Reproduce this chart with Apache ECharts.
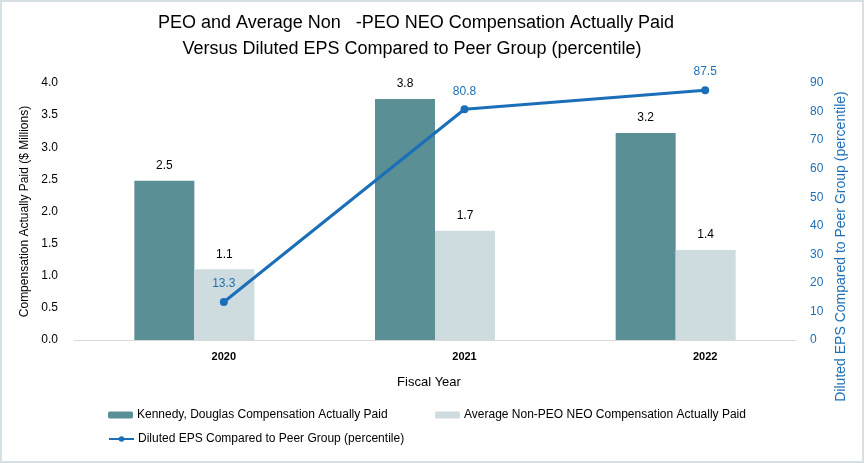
<!DOCTYPE html>
<html>
<head>
<meta charset="utf-8">
<script src="https://cdn.jsdelivr.net/npm/echarts@6/dist/echarts.min.js"></script>
<style>
html,body{margin:0;padding:0;background:#fff;}
#c{width:864px;height:463px;box-sizing:border-box;border:2px solid #d6dfe3;}
</style>
</head>
<body>
<div id="c"></div>
<script>
var categories = ['2020', '2021', '2022'];
var peoValues = [2.48, 3.75, 3.22];
var neoValues = [1.10, 1.70, 1.40];
var epsValues = [13.3, 80.8, 87.5];
var leftTicks = {min: 0, max: 4, interval: 0.5};
var rightTicks = {min: 0, max: 90, interval: 10};

var titleLine1 = 'PEO and Average Non   -PEO NEO Compensation Actually Paid';
var titleLine2 = 'Versus Diluted EPS Compared to Peer Group (percentile)';
var peoName = 'Kennedy, Douglas Compensation Actually Paid';
var neoName = 'Average Non-PEO NEO Compensation Actually Paid';
var epsName = 'Diluted EPS Compared to Peer Group (percentile)';

var FONT = 'Liberation Sans, Arial, sans-serif';
var chart = echarts.init(document.getElementById('c'), null, {renderer: 'canvas'});
var option = {
  animation: false,
  textStyle: {fontFamily: FONT},
  title: [
    {text: titleLine1, left: 409, top: 7, textAlign: 'center',
     textStyle: {fontSize: 18, fontWeight: 'normal', color: '#000', fontFamily: FONT}},
    {text: titleLine2, left: 405, top: 33, textAlign: 'center',
     textStyle: {fontSize: 18, fontWeight: 'normal', color: '#000', fontFamily: FONT}}
  ],
  legend: [
    {data: [peoName], left: 101, top: 402, itemWidth: 25, itemHeight: 7,
     textStyle: {fontSize: 12, color: '#000', fontFamily: FONT, padding: [0,0,0,-1]}},
    {data: [neoName], left: 428, top: 402, itemWidth: 25, itemHeight: 7,
     textStyle: {fontSize: 12, color: '#000', fontFamily: FONT, padding: [0,0,0,-1]}},
    {data: [epsName], left: 101, top: 426, itemWidth: 25, itemHeight: 7,
     textStyle: {fontSize: 12, color: '#000', fontFamily: FONT, padding: [0,0,0,-1]}}
  ],
  grid: [
    {left: 72, width: 722, top: 81, height: 257},
    {left: 101.5, width: 722, top: 81, height: 257}
  ],
  xAxis: [
    {type: 'category', gridIndex: 0, data: categories,
     axisLine: {show: true, lineStyle: {color: '#d9d9d9', width: 1}},
     axisTick: {show: false}, axisLabel: {show: false},
     name: 'Fiscal Year', nameLocation: 'middle', nameGap: 36,
     nameTextStyle: {fontSize: 13, color: '#000', fontFamily: FONT, padding: [0, 12, 0, 0]}},
    {type: 'category', gridIndex: 1, data: categories,
     axisLine: {show: false}, axisTick: {show: false},
     axisLabel: {fontSize: 11, fontWeight: 'bold', color: '#000', margin: 11, fontFamily: FONT}}
  ],
  yAxis: [
    {type: 'value', gridIndex: 0, position: 'left', min: leftTicks.min, max: leftTicks.max, interval: leftTicks.interval,
     splitLine: {show: false}, axisLine: {show: false}, axisTick: {show: false},
     axisLabel: {formatter: function(v){return v.toFixed(1);}, fontSize: 12, color: '#000', margin: 16, fontFamily: FONT},
     name: 'Compensation Actually Paid ($ Millions)', nameLocation: 'middle', nameGap: 35, nameRotate: 90,
     nameTextStyle: {fontSize: 12, color: '#000', fontFamily: FONT}},
    {type: 'value', gridIndex: 0, position: 'right', min: rightTicks.min, max: rightTicks.max, interval: rightTicks.interval,
     splitLine: {show: false}, axisLine: {show: false}, axisTick: {show: false},
     axisLabel: {fontSize: 12, color: '#1f6fb5', margin: 14, fontFamily: FONT},
     name: epsName, nameLocation: 'middle', nameGap: 37, nameRotate: 90,
     nameTextStyle: {fontSize: 14, color: '#1f6fb5', fontFamily: FONT, padding: [0, 70, 0, 0]}},
    {type: 'value', gridIndex: 1, min: rightTicks.min, max: rightTicks.max, interval: rightTicks.interval,
     show: false}
  ],
  series: [
    {name: peoName, type: 'bar', xAxisIndex: 0, yAxisIndex: 0, data: peoValues,
     barWidth: 60, barGap: '0%', itemStyle: {color: '#5a8f96'},
     label: {show: true, position: 'top', distance: 9, fontSize: 12, color: '#000',
             formatter: function(p){return p.value.toFixed(1);}, fontFamily: FONT}},
    {name: neoName, type: 'bar', xAxisIndex: 0, yAxisIndex: 0, data: neoValues,
     barWidth: 60, barGap: '0%', itemStyle: {color: '#cedbdf'},
     label: {show: true, position: 'top', distance: 9, fontSize: 12, color: '#000',
             formatter: function(p){return p.value.toFixed(1);}, fontFamily: FONT}},
    {name: epsName, type: 'line', xAxisIndex: 1, yAxisIndex: 2, data: epsValues,
     symbol: 'circle', symbolSize: 8, lineStyle: {color: '#1a6fb8', width: 3},
     itemStyle: {color: '#1a6fb8'}, z: 5,
     label: {show: true, position: 'top', distance: 8, fontSize: 12, color: '#1f6fb5',
             formatter: function(p){return p.value.toFixed(1);}, fontFamily: FONT}}
  ]
};
chart.setOption(option);
</script>
</body>
</html>
